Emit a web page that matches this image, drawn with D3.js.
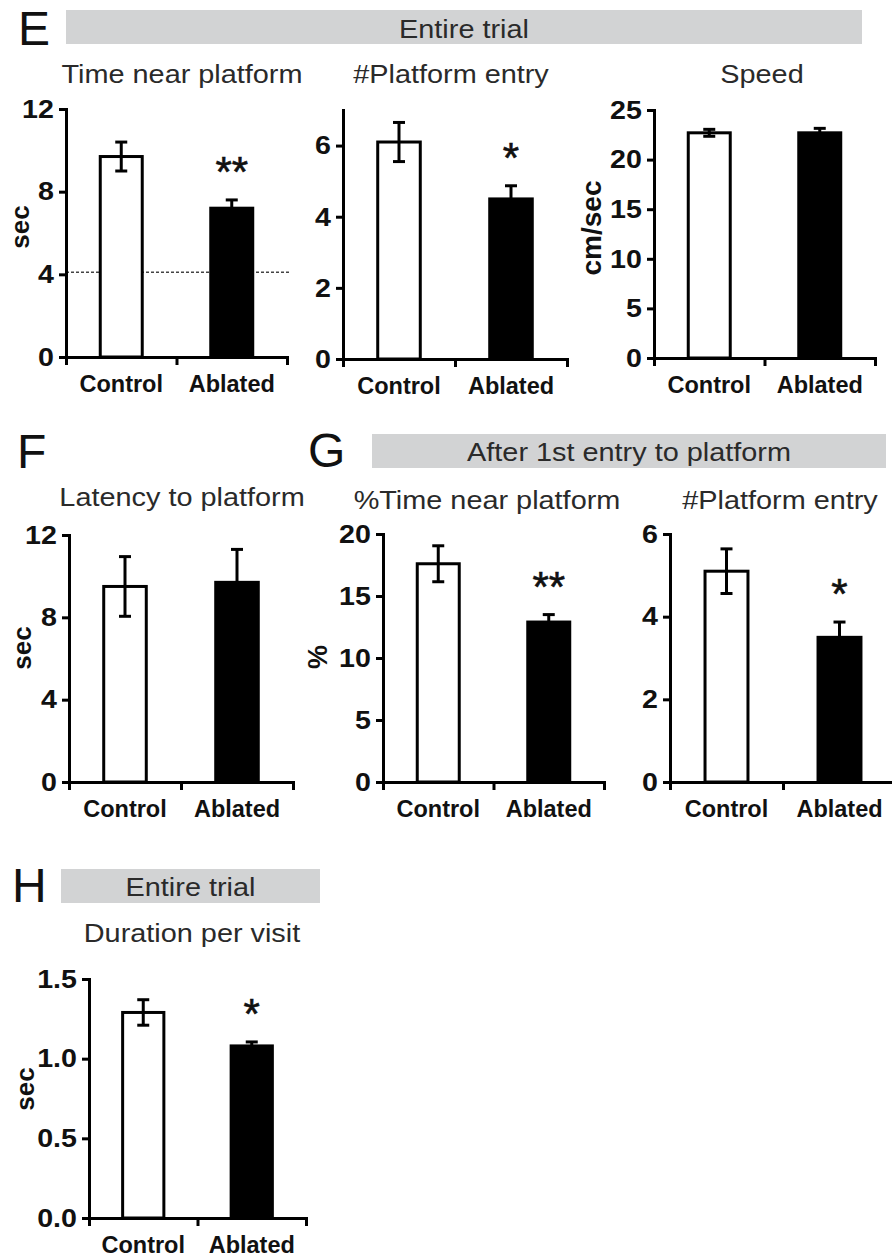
<!DOCTYPE html>
<html>
<head>
<meta charset="utf-8">
<script src="https://cdn.jsdelivr.net/npm/d3@7/dist/d3.min.js"></script>
<style>
  html, body { margin: 0; padding: 0; background: #fff; }
  svg { display: block; }
  text { font-family: "Liberation Sans", Arial, Helvetica, sans-serif; }
</style>
</head>
<body>
<svg id="chart" width="892" height="1258"></svg>
<script>
// ---------------- DATA ----------------
const categories = ["Control", "Ablated"];

// E: Entire trial
const timeNearMean = [9.7, 7.2];
const timeNearErr = [0.7, 0.4];
const timeNearSig = ["", "**"];
const timeNearTicks = [0, 4, 8, 12];
const chanceLevel = 4.1;

const entryMean = [6.1, 4.5];
const entryErr = [0.55, 0.37];
const entrySig = ["", "*"];
const entryTicks = [0, 2, 4, 6];

const speedMean = [22.7, 22.7];
const speedErr = [0.35, 0.45];
const speedSig = ["", ""];
const speedTicks = [0, 5, 10, 15, 20, 25];

// F
const latencyMean = [9.5, 9.7];
const latencyErr = [1.45, 1.6];
const latencySig = ["", ""];
const latencyTicks = [0, 4, 8, 12];

// G: After 1st entry to platform
const pctTimeMean = [17.6, 12.9];
const pctTimeErr = [1.45, 0.6];
const pctTimeSig = ["", "**"];
const pctTimeTicks = [0, 5, 10, 15, 20];

const entryAfterMean = [5.1, 3.5];
const entryAfterErr = [0.54, 0.37];
const entryAfterSig = ["", "*"];
const entryAfterTicks = [0, 2, 4, 6];

// H: Entire trial
const durationMean = [1.29, 1.08];
const durationErr = [0.08, 0.025];
const durationSig = ["", "*"];
const durationTicks = [0, 0.5, 1.0, 1.5];

const panelLetters = ["E", "F", "G", "H"];
const bannerTexts = ["Entire trial", "After 1st entry to platform", "Entire trial"];
const panelTitles = ["Time near platform", "#Platform entry", "Speed", "Latency to platform",
                     "%Time near platform", "#Platform entry", "Duration per visit"];
const yLabels = ["sec", "", "cm/sec", "sec", "%", "", "sec"];

// ---------------- LAYOUT ----------------
const svg = d3.select("#chart");
const FONT = '"Liberation Sans", Arial, Helvetica, sans-serif';
const STRETCH = 1.11;

function stretchedText(parent, x, y, size, txt, opts = {}) {
  return parent.append("text")
    .attr("transform", `translate(${x},${y}) scale(${opts.sx || STRETCH},1)`)
    .attr("text-anchor", opts.anchor || "middle")
    .attr("font-size", size)
    .attr("font-weight", opts.weight || "normal")
    .attr("fill", opts.fill || "#2a2a2a")
    .text(txt);
}

const panels = [
  { mean: timeNearMean, err: timeNearErr, sig: timeNearSig, ticks: timeNearTicks, max: 12, fmt: d3.format("d"),
    x0: 66, x1: 287, y0: 357, yTop: 109, title: panelTitles[0], tx: 182, ty: 83, ylab: yLabels[0], lx: 20, ly: 227, lsize: 26, ref: chanceLevel },
  { mean: entryMean, err: entryErr, sig: entrySig, ticks: entryTicks, max: 7, fmt: d3.format("d"),
    x0: 343, x1: 567, y0: 359, yTop: 110, title: panelTitles[1], tx: 451, ty: 83, ylab: yLabels[1] },
  { mean: speedMean, err: speedErr, sig: speedSig, ticks: speedTicks, max: 25, fmt: d3.format("d"),
    x0: 654, x1: 875, y0: 358, yTop: 110, title: panelTitles[2], tx: 762, ty: 83, ylab: yLabels[2], lx: 591, ly: 228, lsize: 28 },
  { mean: latencyMean, err: latencyErr, sig: latencySig, ticks: latencyTicks, max: 12, fmt: d3.format("d"),
    x0: 69, x1: 293, y0: 782, yTop: 535, title: panelTitles[3], tx: 182, ty: 506, ylab: yLabels[3], lx: 22, ly: 648, lsize: 26 },
  { mean: pctTimeMean, err: pctTimeErr, sig: pctTimeSig, ticks: pctTimeTicks, max: 20, fmt: d3.format("d"),
    x0: 383, x1: 604, y0: 782, yTop: 534, title: panelTitles[4], tx: 487, ty: 509, ylab: yLabels[4], lx: 318, ly: 657, lsize: 27 },
  { mean: entryAfterMean, err: entryAfterErr, sig: entryAfterSig, ticks: entryAfterTicks, max: 6, fmt: d3.format("d"),
    x0: 670, x1: 896, y0: 782, yTop: 534, title: panelTitles[5], tx: 780, ty: 509, ylab: yLabels[5] },
  { mean: durationMean, err: durationErr, sig: durationSig, ticks: durationTicks, max: 1.5, fmt: d3.format(".1f"),
    x0: 89, x1: 306, y0: 1218, yTop: 979, title: panelTitles[6], tx: 192, ty: 942, ylab: yLabels[6], lx: 25, ly: 1089, lsize: 26 }
];

// banners
const banners = [
  { x: 66, y: 10, w: 796, h: 34, text: bannerTexts[0], ty: 38 },
  { x: 372, y: 434, w: 514, h: 34, text: bannerTexts[1], ty: 461 },
  { x: 61, y: 869, w: 259, h: 34, text: bannerTexts[2], ty: 896 }
];
banners.forEach(b => {
  svg.append("rect").attr("x", b.x).attr("y", b.y).attr("width", b.w).attr("height", b.h)
    .attr("fill", "#d2d3d4");
  stretchedText(svg, b.x + b.w / 2, b.ty, 26, b.text);
});

// panel letters
const letterPos = [[18, 45], [17, 468], [308, 467], [12, 902]];
panelLetters.forEach((L, i) => {
  svg.append("text").attr("x", letterPos[i][0]).attr("y", letterPos[i][1])
    .attr("font-size", 48).attr("fill", "#111").text(L);
});

function drawPanel(p) {
  const g = svg.append("g");
  const y = d3.scaleLinear().domain([0, p.max]).range([p.y0, p.yTop]);
  const xb = d3.scaleBand().domain(categories).range([p.x0, p.x1]).paddingInner(0.62).paddingOuter(0.31);
  const xt = d3.scaleLinear().domain([0, 2]).range([p.x0, p.x1]);

  // title
  stretchedText(g, p.tx, p.ty, 26, p.title);

  // reference (chance) line
  if (p.ref !== undefined) {
    g.append("line").attr("x1", p.x0).attr("x2", p.x1 + 3).attr("y1", y(p.ref)).attr("y2", y(p.ref))
      .attr("stroke", "#444").attr("stroke-width", 1.3).attr("stroke-dasharray", "3,2");
  }

  // bars
  g.selectAll("rect.bar").data(categories).join("rect").attr("class", "bar")
    .attr("x", d => xb(d)).attr("width", xb.bandwidth())
    .attr("y", (d, i) => y(p.mean[i])).attr("height", (d, i) => p.y0 - y(p.mean[i]))
    .attr("fill", (d, i) => i === 0 ? "#fff" : "#000")
    .attr("stroke", "#000").attr("stroke-width", 3);

  // error bars
  const cap = 6;
  categories.forEach((c, i) => {
    const cx = xb(c) + xb.bandwidth() / 2;
    const hi = y(p.mean[i] + p.err[i]), lo = y(p.mean[i] - p.err[i]);
    g.append("line").attr("x1", cx).attr("x2", cx).attr("y1", hi).attr("y2", lo)
      .attr("stroke", "#000").attr("stroke-width", 3);
    g.append("line").attr("x1", cx - cap).attr("x2", cx + cap).attr("y1", hi).attr("y2", hi)
      .attr("stroke", "#000").attr("stroke-width", 3);
    g.append("line").attr("x1", cx - cap).attr("x2", cx + cap).attr("y1", lo).attr("y2", lo)
      .attr("stroke", "#000").attr("stroke-width", 3);
    if (p.sig[i]) {
      const targetC = hi - 37;
      g.append("text").attr("x", cx).attr("y", targetC + 0.57 * 42 * 0.72 + 6).attr("text-anchor", "middle")
        .attr("font-size", 42).attr("fill", "#111").attr("stroke", "#111").attr("stroke-width", 0.6)
        .text(p.sig[i]);
    }
  });

  // y axis
  const ya = g.append("g").attr("transform", `translate(${p.x0},0)`)
    .call(d3.axisLeft(y).tickValues(p.ticks).tickFormat(p.fmt).tickSize(7).tickSizeOuter(0).tickPadding(4));
  // x axis
  const xa = g.append("g").attr("transform", `translate(0,${p.y0})`)
    .call(d3.axisBottom(xt).tickValues([0, 1, 2]).tickFormat("").tickSize(8).tickSizeOuter(0));
  [ya, xa].forEach(a => {
    a.selectAll("path.domain").attr("stroke", "#000").attr("stroke-width", 3).attr("stroke-linecap", "square");
    a.selectAll(".tick line").attr("stroke", "#000").attr("stroke-width", 3);
  });
  ya.selectAll(".tick text").attr("font-family", FONT).attr("font-size", 26).attr("font-weight", "bold")
    .attr("fill", "#111").attr("transform", "scale(1.1,1)");

  // category labels
  g.selectAll("text.cat").data(categories).join("text").attr("class", "cat")
    .attr("x", d => xb(d) + xb.bandwidth() / 2).attr("y", p.y0 + 35)
    .attr("text-anchor", "middle").attr("font-size", 23.5).attr("font-weight", "bold").attr("fill", "#111")
    .text(d => d);

  // y label
  if (p.ylab) {
    g.append("text").attr("transform", `translate(${p.lx},${p.ly}) rotate(-90)`)
      .attr("text-anchor", "middle").attr("dominant-baseline", "central")
      .attr("font-size", p.lsize).attr("font-weight", "bold").attr("fill", "#111").text(p.ylab);
  }
}

panels.forEach(drawPanel);
</script>
</body>
</html>
